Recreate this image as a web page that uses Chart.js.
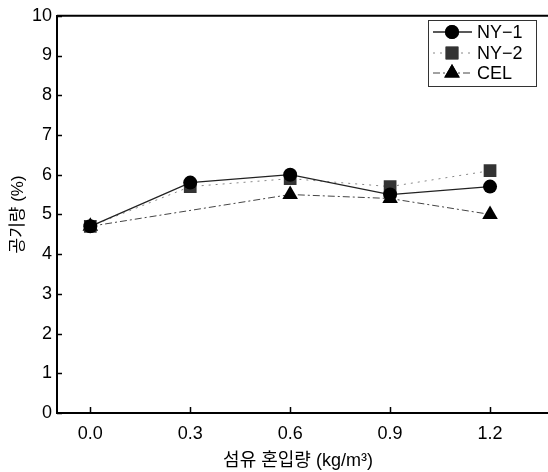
<!DOCTYPE html>
<html>
<head>
<meta charset="utf-8">
<script src="https://cdn.jsdelivr.net/npm/chart.js@4.4.1/dist/chart.umd.min.js"></script>
<style>
  html, body { margin: 0; padding: 0; background: #fff; }
  #wrap { width: 548px; height: 472px; }
</style>
</head>
<body>
<div id="wrap"><canvas id="grafica"></canvas></div>
<script>
const mezcla = [0.0, 0.3, 0.6, 0.9, 1.2];
const ny1 = [4.7, 5.8, 6.0, 5.5, 5.7];
const ny2 = [4.7, 5.7, 5.9, 5.7, 6.1];
const cel = [4.7, null, 5.5, 5.4, 5.0];
const xTicks = [0.0, 0.3, 0.6, 0.9, 1.2];
const yTicks = [0, 1, 2, 3, 4, 5, 6, 7, 8, 9, 10];

const fuente = '"Liberation Sans", Arial, "Noto Sans CJK KR", sans-serif';

function puntos(valores){
    return mezcla.map((x, i) => ({ x: x, y: valores[i] }));
}

// top frame, tick marks pointing into the plot, and the legend box
const extras = {
    id: 'extras',
    afterDraw(chart){
        const ctx = chart.ctx;
        const area = chart.chartArea;
        const sx = chart.scales.x;
        const sy = chart.scales.y;
        ctx.save();
        ctx.strokeStyle = '#000';
        ctx.lineWidth = 2;
        ctx.beginPath();
        ctx.moveTo(area.left, area.top);
        ctx.lineTo(chart.width, area.top);
        ctx.moveTo(area.right, area.bottom);
        ctx.lineTo(chart.width, area.bottom);
        ctx.stroke();

        ctx.lineWidth = 1.5;
        ctx.beginPath();
        xTicks.forEach(v => {
            const px = Math.round(sx.getPixelForValue(v)) + 0.5;
            ctx.moveTo(px, area.bottom);
            ctx.lineTo(px, area.bottom - 6);
        });
        yTicks.forEach(v => {
            const py = Math.round(sy.getPixelForValue(v)) + 0.5;
            ctx.moveTo(area.left, py);
            ctx.lineTo(area.left + 5, py);
        });
        ctx.stroke();

        // legend
        ctx.lineWidth = 1;
        ctx.strokeStyle = '#333';
        ctx.strokeRect(428.5, 20.5, 108, 66);
        ctx.font = '18px ' + fuente;
        ctx.textBaseline = 'middle';
        ctx.fillStyle = '#000';
        const filas = [32, 53, 73];
        chart.data.datasets.forEach((ds, i) => {
            const y = filas[i];
            ctx.save();
            ctx.strokeStyle = ds.borderColor;
            ctx.lineWidth = ds.borderWidth;
            ctx.setLineDash(ds.borderDash || []);
            ctx.beginPath();
            ctx.moveTo(433, y);
            ctx.lineTo(472, y);
            ctx.stroke();
            ctx.restore();
            Chart.helpers.drawPoint(ctx, {
                pointStyle: ds.pointStyle,
                radius: ds.pointRadius,
                borderWidth: 0
            }, 452, y);
            ctx.fillStyle = ds.pointBackgroundColor;
            ctx.fill();
            ctx.fillStyle = '#000';
            ctx.fillText(ds.label, 477, y + 1);
        });
        ctx.restore();
    }
};

new Chart(document.getElementById('grafica'), {
    type: 'line',
    data: {
        datasets: [{
            label: 'NY−1',
            data: puntos(ny1),
            borderColor: '#222',
            borderWidth: 1.3,
            pointStyle: 'circle',
            pointRadius: 7,
            pointBackgroundColor: '#000',
            pointBorderWidth: 0,
            order: 1
        }, {
            label: 'NY−2',
            data: puntos(ny2),
            borderColor: '#888',
            borderWidth: 1,
            borderDash: [2, 5],
            pointStyle: 'rect',
            pointRadius: 9,
            pointBackgroundColor: '#333',
            pointBorderWidth: 0,
            order: 2
        }, {
            label: 'CEL',
            data: puntos(cel),
            borderColor: '#444',
            borderWidth: 1,
            borderDash: [7, 3, 2, 3],
            pointStyle: 'triangle',
            pointRadius: 9,
            pointBackgroundColor: '#000',
            pointBorderWidth: 0,
            spanGaps: true,
            order: 3
        }]
    },
    options: {
        responsive: true,
        maintainAspectRatio: false,
        animation: false,
        layout: { padding: { top: 9, right: 0, left: 0, bottom: 0 } },
        elements: { line: { tension: 0 } },
        plugins: {
            legend: { display: false },
            tooltip: { enabled: false }
        },
        scales: {
            x: {
                type: 'linear',
                min: -0.1,
                max: 1.347,
                afterBuildTicks: s => { s.ticks = xTicks.map(v => ({ value: v })); },
                afterFit: s => { s.height = 59; },
                grid: { display: false, drawTicks: false },
                border: { display: true, color: '#000', width: 2 },
                ticks: {
                    padding: 10,
                    color: '#000',
                    font: { family: fuente, size: 18 },
                    callback: v => v.toFixed(1)
                },
                title: {
                    display: true,
                    text: '섬유 혼입량 (kg/m³)',
                    color: '#000',
                    align: 'center',
                    font: { family: fuente, size: 18 },
                    padding: { top: 4, bottom: 0 }
                }
            },
            y: {
                min: 0,
                max: 10,
                afterBuildTicks: s => { s.ticks = yTicks.map(v => ({ value: v })); },
                afterFit: s => { s.width = 57; },
                grid: { display: false, drawTicks: false },
                border: { display: true, color: '#000', width: 2 },
                ticks: {
                    padding: 5,
                    color: '#000',
                    font: { family: fuente, size: 18 }
                },
                title: {
                    display: true,
                    text: '공기량 (%)',
                    color: '#000',
                    font: { family: fuente, size: 17 },
                    padding: { top: 8, bottom: 0 }
                }
            }
        }
    },
    plugins: [extras]
});
</script>
</body>
</html>
